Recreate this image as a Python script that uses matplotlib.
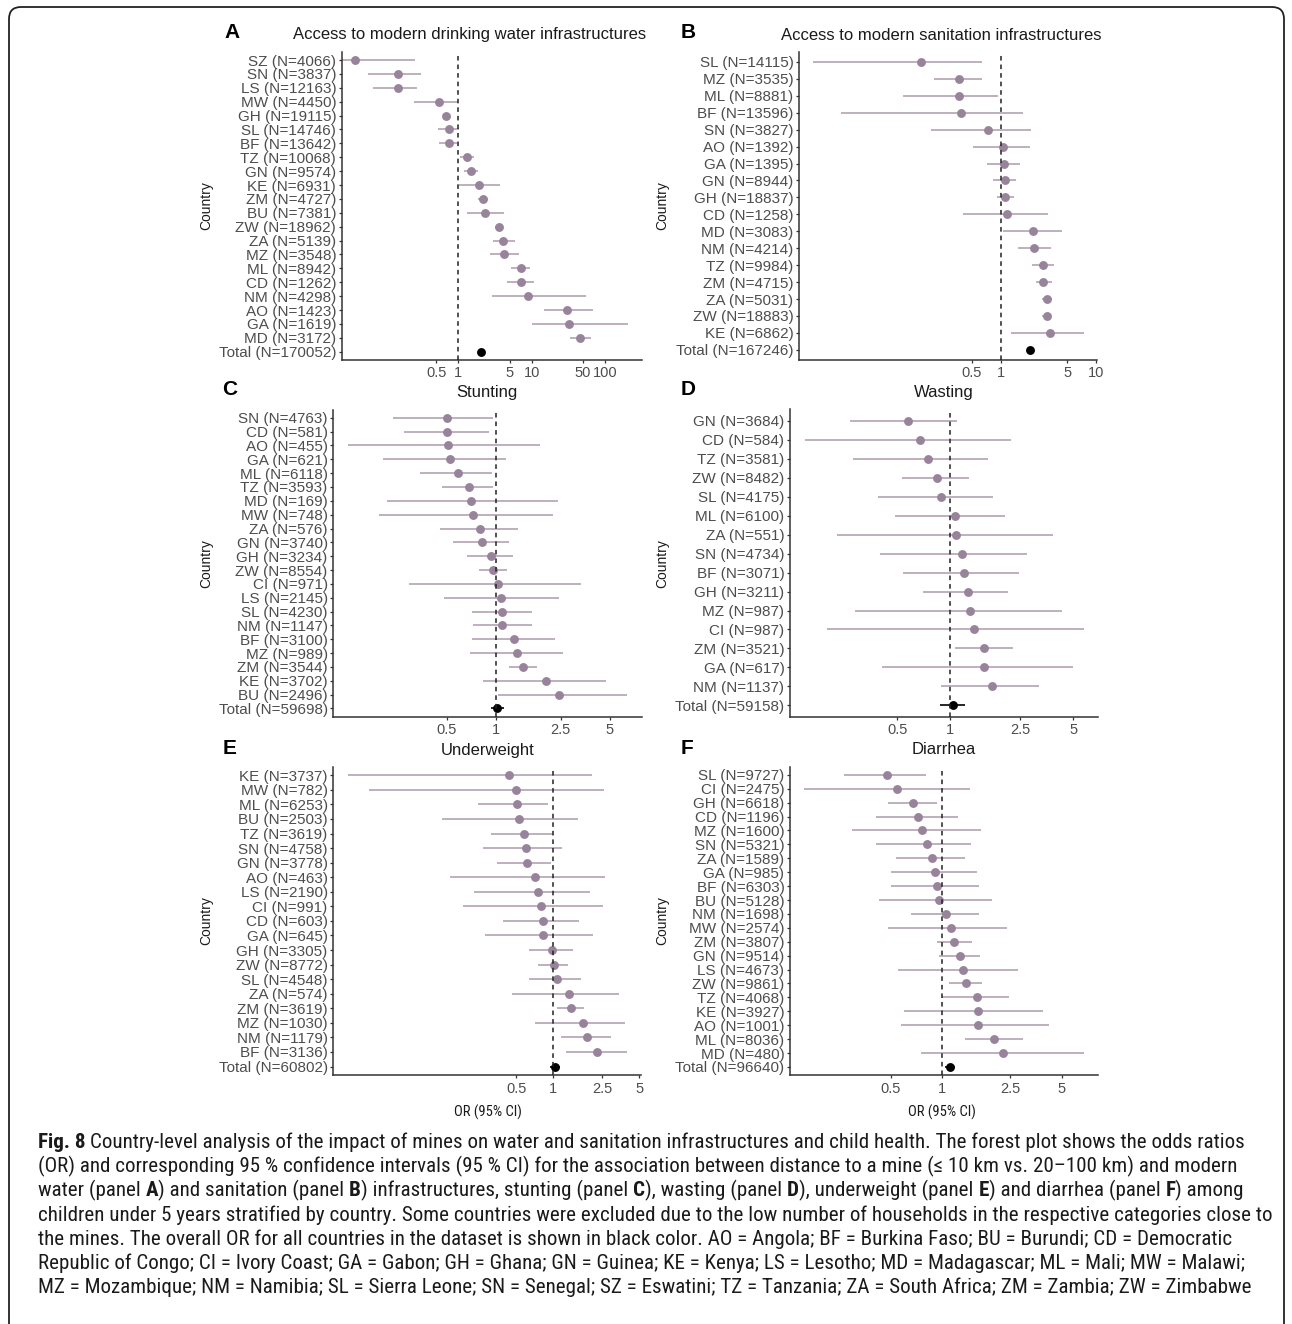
import matplotlib
matplotlib.use('Agg')
import numpy as np
import matplotlib.pyplot as plt
from matplotlib import font_manager
from matplotlib.patches import FancyBboxPatch

plt.rcParams['font.family'] = ['Liberation Sans', 'DejaVu Sans']

W, H = 1292, 1324

# Panel A - modern drinking water
a_codes = ['SZ', 'SN', 'LS', 'MW', 'GH', 'SL', 'BF', 'TZ', 'GN', 'KE', 'ZM', 'BU',
           'ZW', 'ZA', 'MZ', 'ML', 'CD', 'NM', 'AO', 'GA', 'MD', 'Total']
a_n = [4066, 3837, 12163, 4450, 19115, 14746, 13642, 10068, 9574, 6931, 4727, 7381,
       18962, 5139, 3548, 8942, 1262, 4298, 1423, 1619, 3172, 170052]
a_or = [0.039, 0.149, 0.149, 0.541, 0.673, 0.74, 0.747, 1.30, 1.475, 1.93, 2.15, 2.33,
        3.62, 4.10, 4.24, 7.08, 7.08, 9.0, 30.5, 32.5, 45.5, 2.02]
a_lo = [0.0245, 0.0594, 0.0695, 0.252, 0.61, 0.524, 0.55, 1.05, 1.20, 1.03, 1.84, 1.33,
        3.19, 2.94, 2.70, 5.17, 4.56, 2.85, 14.7, 10.0, 33.0, 1.9]
a_hi = [0.257, 0.307, 0.276, 1.0, 0.75, 1.03, 0.95, 1.64, 1.87, 3.70, 2.56, 4.19,
        4.10, 5.93, 6.77, 9.48, 10.7, 55.0, 67.5, 203.0, 63.7, 2.15]

# Panel B - modern sanitation
b_codes = ['SL', 'MZ', 'ML', 'BF', 'SN', 'AO', 'GA', 'GN', 'GH', 'CD', 'MD', 'NM',
           'TZ', 'ZM', 'ZA', 'ZW', 'KE', 'Total']
b_n = [14115, 3535, 8881, 13596, 3827, 1392, 1395, 8944, 18837, 1258, 3083, 4214,
       9984, 4715, 5031, 18883, 6862, 167246]
b_or = [0.145, 0.368, 0.368, 0.38, 0.741, 1.057, 1.08, 1.11, 1.12, 1.155, 2.17, 2.24,
        2.76, 2.80, 3.04, 3.04, 3.29, 2.03]
b_lo = [0.01065, 0.198, 0.095, 0.0211, 0.186, 0.516, 0.723, 0.837, 0.908, 0.405, 1.065, 1.53,
        2.11, 2.33, 2.69, 2.69, 1.30, 1.9]
b_hi = [0.641, 0.641, 0.944, 1.70, 2.08, 2.03, 1.59, 1.45, 1.39, 3.16, 4.37, 3.37,
        3.62, 3.48, 3.48, 3.40, 7.55, 2.15]

# Panel C - stunting
c_codes = ['SN', 'CD', 'AO', 'GA', 'ML', 'TZ', 'MD', 'MW', 'ZA', 'GN', 'GH', 'ZW',
           'CI', 'LS', 'SL', 'NM', 'BF', 'MZ', 'ZM', 'KE', 'BU', 'Total']
c_n = [4763, 581, 455, 621, 6118, 3593, 169, 748, 576, 3740, 3234, 8554,
       971, 2145, 4230, 1147, 3100, 989, 3544, 3702, 2496, 59698]
c_or = [0.5, 0.5, 0.512, 0.524, 0.589, 0.683, 0.702, 0.729, 0.801, 0.82, 0.935, 0.967,
        1.037, 1.078, 1.10, 1.10, 1.30, 1.346, 1.465, 2.03, 2.46, 1.014]
c_lo = [0.233, 0.275, 0.123, 0.202, 0.343, 0.466, 0.214, 0.193, 0.455, 0.549, 0.663, 0.79,
        0.295, 0.483, 0.712, 0.722, 0.712, 0.695, 1.21, 0.839, 1.037, 0.93]
c_hi = [0.967, 0.913, 1.87, 1.15, 0.953, 0.967, 2.40, 2.26, 1.38, 1.21, 1.28, 1.17,
        3.33, 2.45, 1.68, 1.66, 2.31, 2.58, 1.80, 4.74, 6.43, 1.12]

# Panel D - wasting
d_codes = ['GN', 'CD', 'TZ', 'ZW', 'SL', 'ML', 'ZA', 'SN', 'BF', 'GH', 'MZ', 'CI',
           'ZM', 'GA', 'NM', 'Total']
d_n = [3684, 584, 3581, 8482, 4175, 6100, 551, 4734, 3071, 3211, 987, 987,
       3521, 617, 1137, 59158]
d_or = [0.575, 0.675, 0.747, 0.847, 0.889, 1.067, 1.077, 1.175, 1.206, 1.27, 1.305, 1.374,
        1.566, 1.566, 1.725, 1.036]
d_lo = [0.270, 0.150, 0.280, 0.531, 0.388, 0.487, 0.229, 0.400, 0.538, 0.705, 0.288, 0.199,
        1.067, 0.409, 0.885, 0.877]
d_hi = [1.09, 2.22, 1.65, 1.28, 1.76, 2.05, 3.83, 2.73, 2.47, 2.14, 4.31, 5.79,
        2.29, 4.98, 3.18, 1.217]

# Panel E - underweight
e_codes = ['KE', 'MW', 'ML', 'BU', 'TZ', 'SN', 'GN', 'AO', 'LS', 'CI', 'CD', 'GA',
           'GH', 'ZW', 'SL', 'ZA', 'ZM', 'MZ', 'NM', 'BF', 'Total']
e_n = [3737, 782, 6253, 2503, 3619, 4758, 3778, 463, 2190, 991, 603, 645,
       3305, 8772, 4548, 574, 3619, 1030, 1179, 3136, 60802]
e_or = [0.436, 0.494, 0.504, 0.523, 0.581, 0.597, 0.615, 0.706, 0.755, 0.794, 0.820, 0.83,
        0.98, 1.02, 1.065, 1.34, 1.385, 1.73, 1.87, 2.25, 1.03]
e_lo = [0.0213, 0.0319, 0.245, 0.124, 0.310, 0.267, 0.35, 0.144, 0.227, 0.186, 0.388, 0.279,
        0.638, 0.755, 0.638, 0.464, 1.065, 0.71, 1.15, 1.26, 0.94]
e_hi = [2.05, 2.58, 0.911, 1.58, 0.99, 1.18, 0.957, 2.63, 1.99, 2.55, 1.63, 2.09,
        1.44, 1.32, 1.68, 3.44, 1.79, 3.83, 2.95, 4.0, 1.13]

# Panel F - diarrhea
f_codes = ['SL', 'CI', 'GH', 'CD', 'MZ', 'SN', 'ZA', 'GA', 'BF', 'BU', 'NM', 'MW',
           'ZM', 'GN', 'LS', 'ZW', 'TZ', 'KE', 'AO', 'ML', 'MD', 'Total']
f_n = [9727, 2475, 6618, 1196, 1600, 5321, 1589, 985, 6303, 5128, 1698, 2574,
       3807, 9514, 4673, 9861, 4068, 3927, 1001, 8036, 480, 96640]
f_or = [0.477, 0.546, 0.674, 0.718, 0.758, 0.811, 0.867, 0.91, 0.931, 0.956, 1.05, 1.124,
        1.175, 1.269, 1.316, 1.376, 1.59, 1.617, 1.624, 2.01, 2.27, 1.105]
f_lo = [0.267, 0.156, 0.48, 0.408, 0.298, 0.408, 0.536, 0.499, 0.499, 0.426, 0.656, 0.48,
        0.927, 0.96, 0.549, 1.09, 1.0, 0.60, 0.571, 1.357, 0.747, 1.04]
f_hi = [0.803, 1.45, 0.935, 1.23, 1.68, 1.47, 1.36, 1.59, 1.64, 1.96, 1.64, 2.40,
        1.49, 1.66, 2.78, 1.70, 2.47, 3.89, 4.22, 2.95, 6.74, 1.19]

titles = ['Access to modern drinking water infrastructures',
          'Access to modern sanitation infrastructures',
          'Stunting', 'Wasting', 'Underweight', 'Diarrhea']
letters = ['A', 'B', 'C', 'D', 'E', 'F']
ticks_a = [0.5, 1, 5, 10, 50, 100]
ticks_b = [0.5, 1, 5, 10]
ticks_cf = [0.5, 1, 2.5, 5]

caption = [
    "**Fig. 8** Country-level analysis of the impact of mines on water and sanitation infrastructures and child health. The forest plot shows the odds ratios",
    "(OR) and corresponding 95 % confidence intervals (95 % CI) for the association between distance to a mine (≤ 10 km vs. 20–100 km) and modern",
    "water (panel **A**) and sanitation (panel **B**) infrastructures, stunting (panel **C**), wasting (panel **D**), underweight (panel **E**) and diarrhea (panel **F**) among",
    "children under 5 years stratified by country. Some countries were excluded due to the low number of households in the respective categories close to",
    "the mines. The overall OR for all countries in the dataset is shown in black color. AO = Angola; BF = Burkina Faso; BU = Burundi; CD = Democratic",
    "Republic of Congo; CI = Ivory Coast; GA = Gabon; GH = Ghana; GN = Guinea; KE = Kenya; LS = Lesotho; MD = Madagascar; ML = Mali; MW = Malawi;",
    "MZ = Mozambique; NM = Namibia; SL = Sierra Leone; SN = Senegal; SZ = Eswatini; TZ = Tanzania; ZA = South Africa; ZM = Zambia; ZW = Zimbabwe",
]

POINT = '#98849A'
LINE = '#B3A2B1'
AXIS = '#333333'
TICKTXT = '#4D4D4D'

fig = plt.figure(figsize=(W / 100, H / 100), dpi=100)


def px_axes(x0, y0, x1, y1):
    return fig.add_axes([x0 / W, 1 - y1 / H, (x1 - x0) / W, (y1 - y0) / H])


def forest(ax, codes, ns, ors, lo, hi, xlim, ticks):
    y = np.arange(len(codes))
    for yi, c, o, l, h in zip(y, codes, ors, lo, hi):
        col_l = 'black' if c == 'Total' else LINE
        col_p = 'black' if c == 'Total' else POINT
        ax.plot([l, h], [yi, yi], color=col_l, lw=1.2, solid_capstyle='butt', zorder=2)
        ax.plot(o, yi, 'o', ms=6.4, color=col_p, mec='none', zorder=3)
    ax.axvline(1, color='#222222', ls=(0, (3, 2.6)), lw=1.1, zorder=4)
    ax.set_xscale('log')
    ax.set_xlim(*xlim)
    ax.set_ylim(len(codes) - 0.4, -0.6)
    ax.set_yticks(y)
    ax.set_yticklabels([f'{c} (N={n})' for c, n in zip(codes, ns)])
    ax.set_xticks(ticks)
    ax.set_xticklabels([f'{t:g}' for t in ticks])
    ax.xaxis.set_minor_locator(plt.NullLocator())
    for s in ['top', 'right']:
        ax.spines[s].set_visible(False)
    for s in ['left', 'bottom']:
        ax.spines[s].set_color(AXIS)
        ax.spines[s].set_linewidth(1.1)
    ax.tick_params(axis='y', length=2.5, width=0.9, color=AXIS, pad=1.5,
                   labelsize=11, labelcolor=TICKTXT)
    ax.tick_params(axis='x', length=2.5, width=0.9, color=AXIS, pad=2,
                   labelsize=10.5, labelcolor=TICKTXT)
    ax.set_facecolor('none')


panels = [
    ((341.7, 51.7, 641.7, 360), (a_codes, a_n, a_or, a_lo, a_hi), (0.0258, 315), ticks_a),
    ((799, 51.7, 1096.7, 360), (b_codes, b_n, b_or, b_lo, b_hi), (0.00764, 10.2), ticks_b),
    ((333.3, 409.5, 641.7, 716.7), (c_codes, c_n, c_or, c_lo, c_hi), (0.1006, 7.88), ticks_cf),
    ((790, 409.5, 1097.7, 716.7), (d_codes, d_n, d_or, d_lo, d_hi), (0.123, 6.9), ticks_cf),
    ((333.3, 766.5, 640.7, 1075.3), (e_codes, e_n, e_or, e_lo, e_hi), (0.0163, 5.13), ticks_cf),
    ((790, 766.5, 1097.7, 1075.3), (f_codes, f_n, f_or, f_lo, f_hi), (0.1286, 8.1), ticks_cf),
]
title_pos = [(470, 35), (941, 35), (487, 393), (944, 393), (487.5, 750), (943.7, 750)]
letter_pos = [(232, 33), (688, 33), (230, 390), (688, 390), (230, 748), (687, 748)]
country_x = [206, 662, 206, 662, 206, 662]

for (box, data, xlim, ticks), title, (tx, ty), letter, (lx, ly), cx in zip(
        panels, titles, title_pos, letters, letter_pos, country_x):
    ax = px_axes(*box)
    forest(ax, *data, xlim, ticks)
    fig.text(tx / W, 1 - ty / H, title, fontsize=12, color='#1a1a1a',
             ha='center', va='center')
    fig.text(lx / W, 1 - ly / H, letter, fontsize=15, fontweight='bold',
             ha='center', va='center')
    fig.text(cx / W, 1 - (box[1] + box[3]) / 2 / H, 'Country', fontsize=10,
             rotation=90, ha='center', va='center', color='#1a1a1a')

# caption font: prefer a narrow face
names = {f.name for f in font_manager.fontManager.ttflist}
cap_font = next((n for n in ['Liberation Sans Narrow', 'Roboto Condensed', 'Open Sans Condensed']
                 if n in names), None)
cap_kw = {'family': cap_font} if cap_font else {'family': 'DejaVu Sans', 'stretch': 'condensed'}

for x_c in (488, 942):
    fig.text(x_c / W, 1 - 1112 / H, 'OR (95% CI)', fontsize=10.5, color='#1a1a1a',
             ha='center', va='center', **cap_kw)

r = fig.canvas.get_renderer()


def text_w(s, size, weight):
    t = fig.text(0, 0, s, fontsize=size, fontweight=weight, **cap_kw)
    w = t.get_window_extent(r).width
    t.remove()
    return w


# fit the widest caption line to the frame width
cap_size = 12.0
for _ in range(4):
    cap_size *= 1236 / text_w(caption[3], cap_size, 'normal')
space = {wt: text_w('a a', cap_size, wt) - text_w('aa', cap_size, wt)
         for wt in ('normal', 'bold')}

for i, line in enumerate(caption):
    y_px = 1148 + i * 24.2
    x = 38.0
    for j, part in enumerate(line.split('**')):
        if not part:
            continue
        wt = 'bold' if j % 2 else 'normal'
        lead = len(part) - len(part.lstrip(' '))
        trail = len(part) - len(part.rstrip(' '))
        x += lead * space[wt]
        t = fig.text(x / W, 1 - y_px / H, part.strip(' '), fontsize=cap_size,
                     fontweight=wt, color='#1a1a1a', ha='left', va='baseline', **cap_kw)
        x += t.get_window_extent(r).width + trail * space[wt]

border = FancyBboxPatch((0.09, -1.0), 12.75, 14.17,
                        boxstyle='round,pad=0,rounding_size=0.12',
                        transform=fig.dpi_scale_trans, fill=False, lw=1.3, ec='#222222')
fig.add_artist(border)

fig.savefig('out.png', dpi=100)
